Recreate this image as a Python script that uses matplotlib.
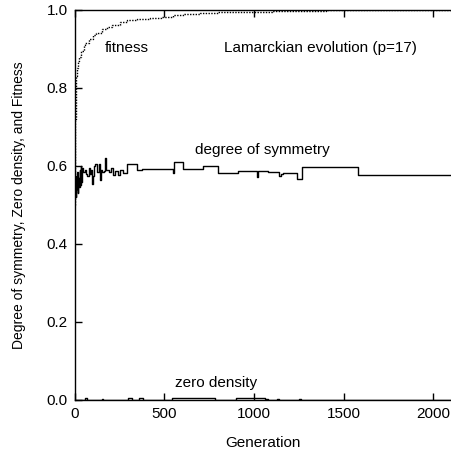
import matplotlib
matplotlib.use("Agg")
import matplotlib.pyplot as plt

plt.rcParams['font.family'] = ['Liberation Sans', 'DejaVu Sans']
plt.rcParams['font.size'] = 11

# fitness (dotted)
fit_gen = [0, 2, 4, 6, 8, 10, 14, 18, 25, 35, 50, 60, 80, 100, 120, 150, 180, 210, 250,
           290, 350, 420, 480, 550, 610, 700, 800, 900, 1000, 1100, 1250, 1400, 1550, 1700, 2110]
fit_val = [0.50, 0.62, 0.72, 0.78, 0.80, 0.83, 0.85, 0.87, 0.88, 0.895, 0.91, 0.915, 0.925, 0.935,
           0.94, 0.95, 0.957, 0.962, 0.968, 0.975, 0.978, 0.98, 0.983, 0.986, 0.99, 0.992, 0.994,
           0.995, 0.996, 0.997, 0.998, 0.999, 0.999, 1.0, 1.0]

# degree of symmetry (solid)
sym_gen = [0, 3, 6, 9, 12, 15, 18, 21, 24, 27, 30, 34, 38, 42, 47, 55, 62, 70, 78, 85,
           92, 97, 100, 105, 113, 125, 135, 141, 145, 155, 165, 170, 175, 190, 200, 215,
           225, 240, 255, 270, 290, 350, 375, 550, 555, 560, 605, 715, 800, 910, 1015,
           1020, 1025, 1080, 1140, 1148, 1160, 1240, 1265, 1580, 2110]
sym_val = [0.53, 0.56, 0.52, 0.575, 0.54, 0.585, 0.53, 0.57, 0.545, 0.59, 0.55, 0.60,
           0.56, 0.595, 0.585, 0.59, 0.58, 0.575, 0.595, 0.58, 0.59, 0.555, 0.575, 0.60,
           0.605, 0.585, 0.605, 0.565, 0.59, 0.585, 0.588, 0.62, 0.59, 0.585, 0.595, 0.578,
           0.588, 0.576, 0.59, 0.583, 0.605, 0.59, 0.592, 0.583, 0.611, 0.611, 0.592, 0.60,
           0.583, 0.588, 0.572, 0.588, 0.588, 0.585, 0.575, 0.58, 0.583, 0.566, 0.598,
           0.577, 0.577]

# zero density (solid, near zero)
zd_gen = [0, 60, 70, 150, 160, 300, 320, 360, 380, 540, 560, 600, 620, 700, 780, 900,
          920, 1060, 1080, 1130, 1140, 1250, 1260, 2110]
zd_val = [0, 0.004, 0, 0.003, 0, 0.004, 0, 0.005, 0, 0.004, 0.006, 0.004, 0.005, 0.004,
          0, 0.004, 0.005, 0.003, 0, 0.003, 0, 0.003, 0, 0]

fig = plt.figure(figsize=(4.52, 4.54), dpi=100)
ax = fig.add_axes([0.1652, 0.119, 0.8348, 0.859])

ax.step(fit_gen, fit_val, where='post', color='black', linestyle=(0, (1, 1)), linewidth=1.0)
ax.step(sym_gen, sym_val, where='post', color='black', linewidth=1.0)
ax.step(zd_gen, zd_val, where='post', color='black', linewidth=1.0)

ax.set_xlim(0, 2104)
ax.set_ylim(0, 1.0)
ax.set_xticks([0, 500, 1000, 1500, 2000])
ax.set_yticks([0.0, 0.2, 0.4, 0.6, 0.8, 1.0])
ax.set_yticklabels(['0.0', '0.2', '0.4', '0.6', '0.8', '1.0'])
ax.tick_params(direction='in', length=5, top=True, width=1, pad=5)
ax.spines['right'].set_visible(False)
for s in ['left', 'bottom', 'top']:
    ax.spines[s].set_linewidth(1.0)

ax.set_xlabel('Generation', labelpad=11)
ax.set_ylabel('Degree of symmetry, Zero density, and Fitness', fontsize=10, labelpad=15)

ax.text(292, 0.903, 'fitness', ha='center', va='center')
ax.text(1373, 0.903, 'Lamarckian evolution (p=17)', ha='center', va='center')
ax.text(1047, 0.641, 'degree of symmetry', ha='center', va='center')
ax.text(791, 0.044, 'zero density', ha='center', va='center')

fig.savefig('out.png', dpi=100)
